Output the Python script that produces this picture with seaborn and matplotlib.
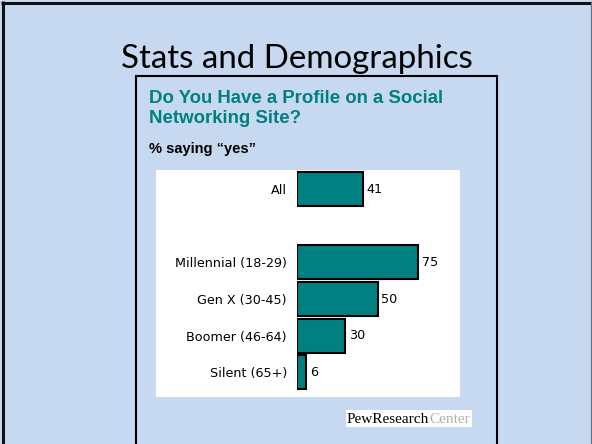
import matplotlib
matplotlib.use("Agg")
import matplotlib.pyplot as plt
import seaborn as sns
import numpy as np
from matplotlib.lines import Line2D
from matplotlib.patches import Rectangle

# ---- data ----
categories = ["All", "Millennial (18-29)", "Gen X (30-45)", "Boomer (46-64)", "Silent (65+)"]
values = [41, 75, 50, 30, 6]
order = ["All", " ", "Millennial (18-29)", "Gen X (30-45)", "Boomer (46-64)", "Silent (65+)"]

slide_title = "Stats and Demographics"
chart_title = "Do You Have a Profile on a Social\nNetworking Site?"
chart_subtitle = "% saying \u201cyes\u201d"

BG = "#C6D9F0"
TEAL = "#008080"
TITLE_TEAL = "#007F7F"

sns.set_theme(style="white")
plt.rcParams['font.family'] = ['DejaVu Sans']

W, H = 592, 444
fig = plt.figure(figsize=(W / 100, H / 100), dpi=100)
fig.patch.set_facecolor(BG)

def fx(x):
    return x / W

def fy(y):
    return 1 - y / H

def hline(x0, x1, y, color, lw):
    fig.add_artist(Line2D([fx(x0), fx(x1)], [fy(y), fy(y)], color=color, lw=lw,
                          transform=fig.transFigure, solid_capstyle="butt"))

def vline(x, y0, y1, color, lw):
    fig.add_artist(Line2D([fx(x), fx(x)], [fy(y0), fy(y1)], color=color, lw=lw,
                          transform=fig.transFigure, solid_capstyle="butt"))

# slide borders
hline(1, 591, 3, "#111111", 2.2)
vline(3, 1, 444, "#111111", 2.2)
vline(590.5, 1, 444, "#6b7480", 0.9)

# inner picture box
hline(135, 498, 76, "black", 1.5)
vline(136, 75, 444, "black", 1.5)
vline(497, 75, 444, "black", 1.5)

# white chart panel (behind the bar axes)
fig.add_artist(Rectangle((fx(156), fy(397)), fx(460) - fx(156), fy(170) - fy(397),
                         transform=fig.transFigure, facecolor="white", edgecolor="none",
                         zorder=-5))

# texts
fig.text(fx(297), fy(59), slide_title, ha="center", va="center", fontsize=23.8,
         family=["Lato", "DejaVu Sans"], color="black")
fig.text(fx(149), fy(90), chart_title, ha="left", va="top", fontsize=13.4,
         fontweight="bold", color=TITLE_TEAL, linespacing=1.25,
         family=["Liberation Sans", "DejaVu Sans"])
fig.text(fx(149), fy(149), chart_subtitle, ha="left", va="center", fontsize=10.5,
         fontweight="bold", color="black", family=["Liberation Sans", "DejaVu Sans"])

# Pew logo
fig.add_artist(Rectangle((fx(346), fy(427)), fx(472) - fx(346), fy(410) - fy(427),
                         transform=fig.transFigure, facecolor="white", edgecolor="none",
                         zorder=-5))
fig.text(fx(347), fy(419), "PewResearch", ha="left", va="center", fontsize=11,
         family=["Liberation Serif", "DejaVu Serif"], color="black")
fig.text(fx(429.5), fy(419), "Center", ha="left", va="center", fontsize=11,
         family=["Liberation Serif", "DejaVu Serif"], color="#b0b0b0")

# bar axes
x0 = 296.7
ax = fig.add_axes([fx(x0), fy(397), (460 - x0) / W, 227 / H])
ax.set_facecolor("none")
sns.barplot(x=values, y=categories, order=order, color=TEAL, saturation=1,
            edgecolor="black", linewidth=1.5, width=0.93, ax=ax)
ax.set_xlim(0, (460 - x0) / 1.62)
ax.set_ylim(5.67, -0.52)
for s in ax.spines.values():
    s.set_visible(False)
ax.set_xticks([])
ax.set_xlabel("")
ax.set_ylabel("")
ax.tick_params(axis="y", length=0, pad=7, labelsize=9.2, labelcolor="black")

for cat, v in zip(categories, values):
    ax.text(v + 2.3, order.index(cat), f"{v}", ha="left", va="center",
            fontsize=9.2, color="black")

fig.savefig("out.png", dpi=100, facecolor=fig.get_facecolor())
